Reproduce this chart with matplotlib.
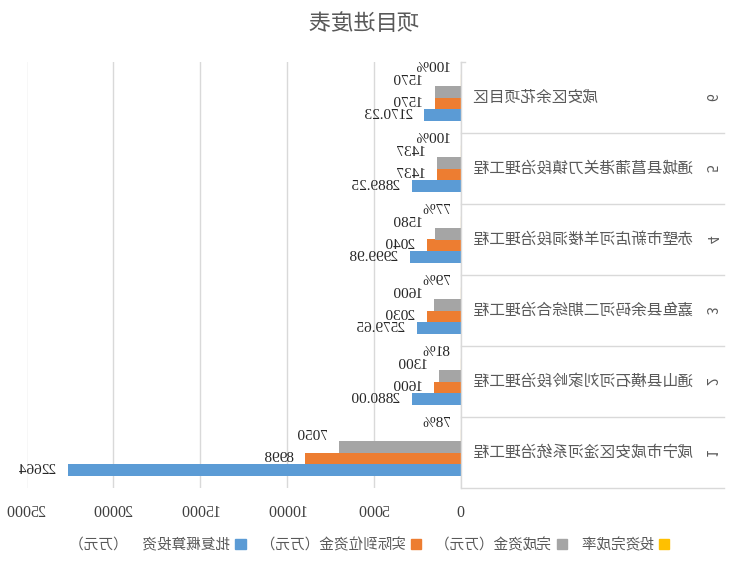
import numpy as np
import matplotlib
matplotlib.use('Agg')
import matplotlib.pyplot as plt
from matplotlib.patches import Patch

plt.rcParams['font.family'] = ['Noto Sans CJK SC', 'DejaVu Sans']

# 数据（自下而上）
nums = ['1', '2', '3', '4', '5', '6']
projects = ['咸宁市咸安区淦河系统治理工程', '通山县横石河刘家岭段治理工程',
            '嘉鱼县余码河二期综合治理工程', '赤壁市新店河羊楼洞段治理工程',
            '通城县菖蒲港关刀镇段治理工程', '咸安区余花项目区']
approved = [22664, 2880.00, 2579.65, 2999.98, 2889.25, 2170.23]
approved_labels = ['22664', '2880.00', '2579.65', '2999.98', '2889.25', '2170.23']
funded = [8998, 1600, 2030, 2040, 1437, 1570]
completed = [7050, 1300, 1600, 1580, 1437, 1570]
rate = [0.78, 0.81, 0.79, 0.77, 1.00, 1.00]

series_names = ['批复概算投资　（万元）', '实际到位资金（万元）', '完成资金（万元）', '投资完成率']
colors = ['#5B9BD5', '#ED7D31', '#A5A5A5', '#FFC000']

fig = plt.figure(figsize=(7.3, 5.66), dpi=100)
ax = fig.add_axes([268/730, 1-488/566, 435/730, 426/566])

y = np.arange(len(projects))
h = 0.169
serif = 'Liberation Serif'
lab_col = '#262626'
txt_col = '#595959'

ax.barh(y - 1.5*h, approved, h, color=colors[0])
ax.barh(y - 0.5*h, funded, h, color=colors[1])
ax.barh(y + 0.5*h, completed, h, color=colors[2])
ax.barh(y + 1.5*h, rate, h, color=colors[3], edgecolor=colors[3], linewidth=0.8)

lab_kw = dict(textcoords='offset points', va='center', ha='left',
              fontsize=11, family=serif, color=lab_col)
for i in range(len(projects)):
    ax.annotate(approved_labels[i], (approved[i], y[i] - 1.5*h), xytext=(8, 0), **lab_kw)
    ax.annotate(f'{funded[i]}', (funded[i], y[i] - 0.5*h), xytext=(8, 0), **lab_kw)
    ax.annotate(f'{completed[i]}', (completed[i], y[i] + 0.5*h), xytext=(8, 7), **lab_kw)
    ax.annotate(f'{rate[i]*100:.0f}%', (rate[i], y[i] + 1.5*h), xytext=(8, 8), **lab_kw)

ax.set_xlim(0, 25000)
ax.set_ylim(-0.5, len(projects) - 0.5)
ax.set_xticks(np.arange(0, 25001, 5000))
ax.set_yticks([])
ax.tick_params(axis='x', length=0, pad=12, labelsize=11.5, labelcolor='#404040')
for t in ax.get_xticklabels():
    t.set_family(serif)
ax.grid(axis='x', color='#D9D9D9', linewidth=1)
ax.set_axisbelow(True)
for s in ['top', 'right', 'bottom']:
    ax.spines[s].set_visible(False)
ax.spines['left'].set_color('#D9D9D9')
ax.spines['left'].set_linewidth(1)

# 分类标签框
tr = ax.get_yaxis_transform()
for k in range(len(projects)):
    ax.plot([-0.605, 0], [k - 0.5, k - 0.5], transform=tr, color='#D9D9D9',
            lw=1, clip_on=False)
ax.plot([-0.01, 0], [len(projects) - 0.5]*2, transform=tr, color='#D9D9D9',
        lw=1, clip_on=False)
for i in range(len(projects)):
    ax.text(-0.025, y[i], projects[i], transform=tr, ha='right', va='center',
            fontsize=11.3, color=txt_col)
    ax.text(-0.572, y[i], nums[i], transform=tr, ha='center', va='center',
            rotation=90, fontsize=10, color=txt_col)

fig.text(366/730, 1-23/566, '项目进度表', ha='center', va='center',
         fontsize=16, color=txt_col)

handles = [Patch(color=colors[i]) for i in [3, 2, 1, 0]]
labels = [series_names[i] for i in [3, 2, 1, 0]]
fig.legend(handles, labels, loc='center', bbox_to_anchor=(360/730, 1-545/566),
           ncol=4, frameon=False, handlelength=0.7, handleheight=0.7,
           handletextpad=0.4, columnspacing=0.9, fontsize=10.5,
           labelcolor=txt_col)

# 参考图为左右镜像，整幅画面水平翻转后保存
fig.canvas.draw()
img = np.asarray(fig.canvas.buffer_rgba())[:, ::-1]
plt.imsave('out.png', img)
